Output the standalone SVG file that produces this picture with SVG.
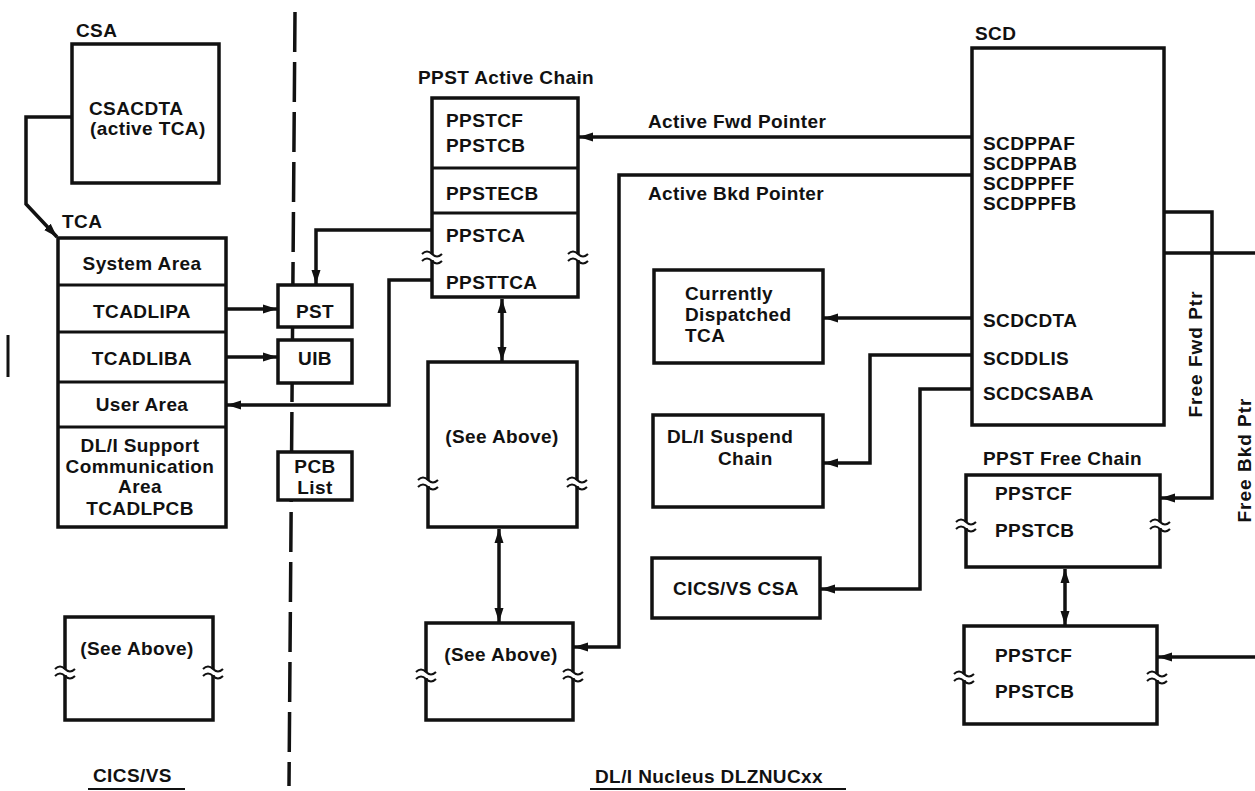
<svg xmlns="http://www.w3.org/2000/svg" xmlns:xlink="http://www.w3.org/1999/xlink" width="1255" height="791" viewBox="0 0 1255 791">
<style>
  text { font-family: "Liberation Sans", Arial, sans-serif; font-weight: bold; font-size: 19px; fill: #111; letter-spacing: 0.4px; }
  .c { text-anchor: middle; }
  .box { fill: #fff; stroke: #111; stroke-width: 3.5; }
  .div { stroke: #111; stroke-width: 3; }
  .conn { fill: none; stroke: #111; stroke-width: 3.5; stroke-linejoin: miter; }
  .arr { marker-end: url(#ah); }
  .dbl { marker-start: url(#ah); marker-end: url(#ah); }
  .ul { stroke: #111; stroke-width: 2; }
</style>
<defs>
  <marker id="ah" markerUnits="userSpaceOnUse" markerWidth="15" markerHeight="10" refX="14" refY="5" orient="auto-start-reverse" viewBox="0 0 15 10">
    <path d="M0,0.5 L14,5 L0,9.5 z" fill="#111"/>
  </marker>
  <g id="brk">
    <rect x="-3" y="-3" width="6" height="6" fill="#fff"/>
    <path d="M-10,-3 Q-5,-8 0,-3 T10,-3 M-10,4 Q-5,-1 0,4 T10,4" fill="none" stroke="#111" stroke-width="2"/>
  </g>
</defs>
<rect width="1255" height="791" fill="#fff"/>

<!-- divider -->
<g id="divider">
  <path d="M295,12 L289,786" fill="none" stroke="#111" stroke-width="3.5" stroke-dasharray="40 10"/>
  <line x1="8" y1="335" x2="8" y2="377" stroke="#111" stroke-width="3"/>
</g>

<g id="connectors">
  <path class="conn arr" d="M72,117 L26,117 L26,204 L57,237"/>
  <path class="conn arr" d="M226,309 L277,309"/>
  <path class="conn arr" d="M226,357 L277,357"/>
  <path class="conn arr" d="M432,230 L316,230 L316,284"/>
  <path class="conn arr" d="M432,280 L389,280 L389,405 L227,405"/>
  <path class="conn arr" d="M972,137 L579,137"/>
  <path class="conn arr" d="M972,175 L619,175 L619,647 L574,647"/>
  <path class="conn arr" d="M972,318 L824,318"/>
  <path class="conn arr" d="M972,355 L870,355 L870,463 L824,463"/>
  <path class="conn arr" d="M972,389 L920,389 L920,589 L821,589"/>
  <path class="conn arr" d="M1164,212 L1212,212 L1212,498 L1161,498"/>
  <path class="conn" d="M1164,253 L1255,253"/>
  <path class="conn arr" d="M1255,657 L1158,657"/>
  <path class="conn dbl" d="M502,299 L502,361"/>
  <path class="conn dbl" d="M499,529 L499,622"/>
  <path class="conn dbl" d="M1065,569 L1065,625"/>
</g>

<g id="csa">
  <text x="76" y="37">CSA</text>
  <rect class="box" x="72" y="44" width="147" height="139"/>
  <text x="89" y="115">CSACDTA</text>
  <text x="90" y="135">(active TCA)</text>
</g>

<g id="tca">
  <text x="62" y="228">TCA</text>
  <rect class="box" x="58" y="238" width="168" height="289"/>
  <line class="div" x1="58" y1="285" x2="226" y2="285"/>
  <line class="div" x1="58" y1="332" x2="226" y2="332"/>
  <line class="div" x1="58" y1="382" x2="226" y2="382"/>
  <line class="div" x1="58" y1="427" x2="226" y2="427"/>
  <text class="c" x="142" y="270">System Area</text>
  <text class="c" x="142" y="318">TCADLIPA</text>
  <text class="c" x="142" y="365">TCADLIBA</text>
  <text class="c" x="142" y="411">User Area</text>
  <text class="c" x="140" y="452">DL/I Support</text>
  <text class="c" x="140" y="473">Communication</text>
  <text class="c" x="140" y="493">Area</text>
  <text class="c" x="140" y="515">TCADLPCB</text>
</g>

<g id="pst">
  <rect class="box" x="278" y="285" width="74" height="42"/>
  <text class="c" x="315" y="318">PST</text>
</g>
<g id="uib">
  <rect class="box" x="278" y="340" width="74" height="43"/>
  <text class="c" x="315" y="365">UIB</text>
</g>
<g id="pcblist">
  <rect class="box" x="278" y="452" width="74" height="48"/>
  <text class="c" x="315" y="473">PCB</text>
  <text class="c" x="315" y="494">List</text>
</g>

<g id="ppst-active">
  <text x="418" y="84">PPST Active Chain</text>
  <rect class="box" x="432" y="98" width="146" height="199"/>
  <line class="div" x1="432" y1="168" x2="578" y2="168"/>
  <line class="div" x1="432" y1="213" x2="578" y2="213"/>
  <text x="446" y="127">PPSTCF</text>
  <text x="446" y="152">PPSTCB</text>
  <text x="446" y="200">PPSTECB</text>
  <text x="446" y="242">PPSTCA</text>
  <text x="446" y="289">PPSTTCA</text>
  <use xlink:href="#brk" x="432" y="257"/>
  <use xlink:href="#brk" x="578" y="257"/>
</g>

<g id="ppst-mid">
  <rect class="box" x="428" y="362" width="149" height="165"/>
  <text class="c" x="502" y="443">(See Above)</text>
  <use xlink:href="#brk" x="428" y="483"/>
  <use xlink:href="#brk" x="577" y="483"/>
</g>

<g id="ppst-bottom">
  <rect class="box" x="426" y="623" width="147" height="97"/>
  <text class="c" x="501" y="661">(See Above)</text>
  <use xlink:href="#brk" x="426" y="675"/>
  <use xlink:href="#brk" x="573" y="675"/>
</g>

<g id="tca-bottom">
  <rect class="box" x="65" y="617" width="148" height="103"/>
  <text class="c" x="137" y="655">(See Above)</text>
  <use xlink:href="#brk" x="65" y="672"/>
  <use xlink:href="#brk" x="213" y="672"/>
</g>

<g id="current-tca">
  <rect class="box" x="654" y="270" width="169" height="93"/>
  <text x="685" y="300">Currently</text>
  <text x="685" y="321">Dispatched</text>
  <text x="685" y="342">TCA</text>
</g>

<g id="suspend">
  <rect class="box" x="653" y="415" width="170" height="92"/>
  <text x="667" y="443">DL/I Suspend</text>
  <text x="718" y="465">Chain</text>
</g>

<g id="cics-csa">
  <rect class="box" x="652" y="558" width="168" height="60"/>
  <text class="c" x="736" y="595">CICS/VS CSA</text>
</g>

<g id="scd">
  <text x="975" y="40">SCD</text>
  <rect class="box" x="972" y="48" width="192" height="377"/>
  <text x="983" y="150">SCDPPAF</text>
  <text x="983" y="170">SCDPPAB</text>
  <text x="983" y="190">SCDPPFF</text>
  <text x="983" y="210">SCDPPFB</text>
  <text x="983" y="327">SCDCDTA</text>
  <text x="983" y="365">SCDDLIS</text>
  <text x="983" y="400">SCDCSABA</text>
</g>

<g id="ppst-free1">
  <text x="983" y="465">PPST Free Chain</text>
  <rect class="box" x="966" y="475" width="194" height="92"/>
  <text x="995" y="500">PPSTCF</text>
  <text x="995" y="537">PPSTCB</text>
  <use xlink:href="#brk" x="966" y="525"/>
  <use xlink:href="#brk" x="1160" y="525"/>
</g>

<g id="ppst-free2">
  <rect class="box" x="964" y="626" width="193" height="98"/>
  <text x="995" y="662">PPSTCF</text>
  <text x="995" y="698">PPSTCB</text>
  <use xlink:href="#brk" x="964" y="677"/>
  <use xlink:href="#brk" x="1157" y="677"/>
</g>

<g id="labels">
  <text x="648" y="128">Active Fwd Pointer</text>
  <text x="648" y="200">Active Bkd Pointer</text>
  <text class="c" transform="translate(1202,354) rotate(-90)" style="letter-spacing:1px">Free Fwd Ptr</text>
  <text class="c" transform="translate(1251,460) rotate(-90)" style="letter-spacing:1px">Free Bkd Ptr</text>
  <text x="93" y="782">CICS/VS</text>
  <line class="ul" x1="88" y1="789" x2="185" y2="789"/>
  <text x="595" y="783">DL/I Nucleus DLZNUCxx</text>
  <line class="ul" x1="590" y1="789" x2="846" y2="789"/>
</g>
</svg>
